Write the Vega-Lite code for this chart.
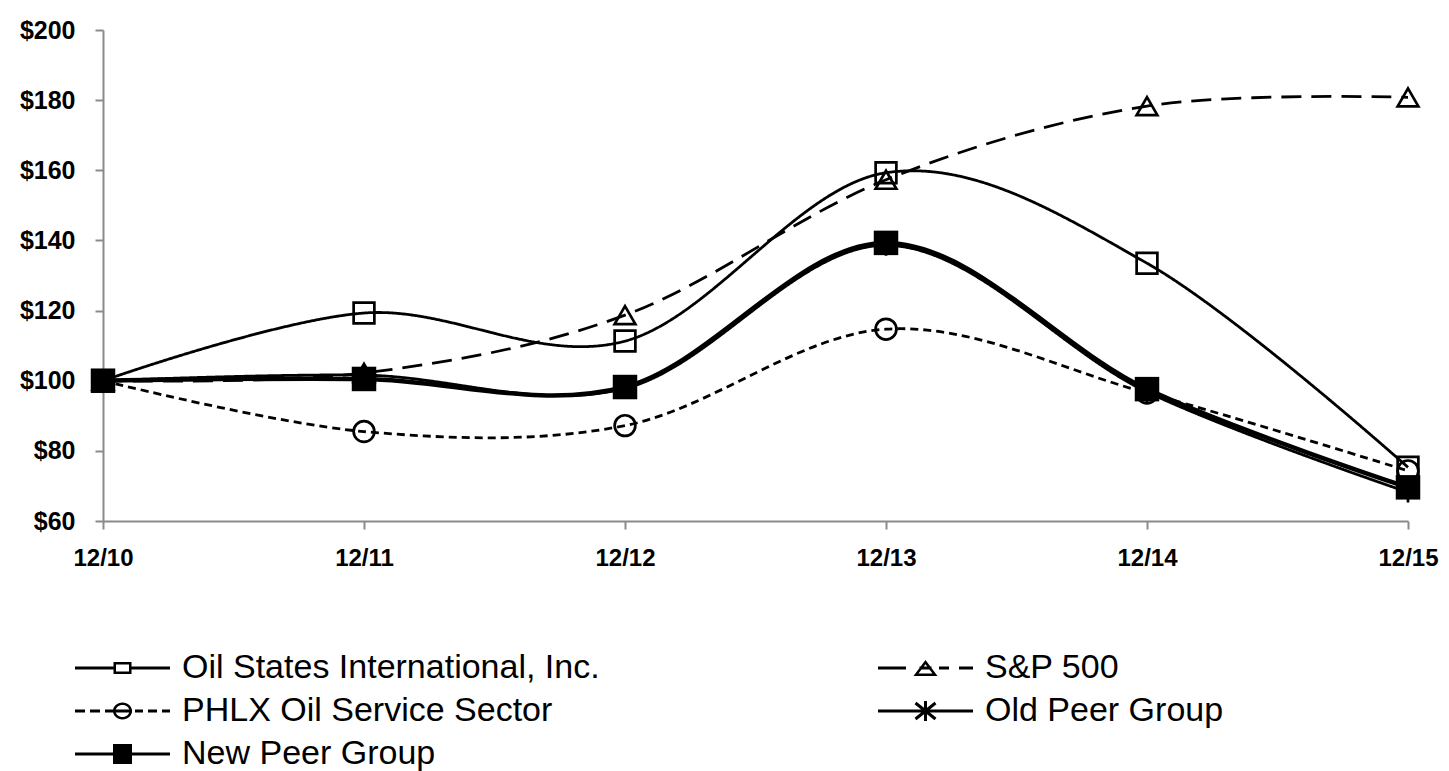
{
  "$schema": "https://vega.github.io/schema/vega-lite/v6.json",
  "width": 1305,
  "height": 491,
  "autosize": {"type": "none"},
  "padding": {"left": 103, "top": 30, "right": 41, "bottom": 250},
  "background": "white",
  "config": {
    "view": {"stroke": null},
    "axis": {
      "grid": false,
      "domainColor": "#8a8a8a",
      "domainWidth": 2,
      "tickColor": "#8a8a8a",
      "tickWidth": 2,
      "tickSize": 8,
      "labelFont": "Liberation Sans",
      "labelFontSize": 24,
      "labelFontWeight": "bold",
      "labelColor": "black",
      "title": null
    }
  },
  "data": {
    "values": [
      {"date": "12/10", "series": "Oil States International, Inc.", "value": 100},
      {"date": "12/11", "series": "Oil States International, Inc.", "value": 119.3},
      {"date": "12/12", "series": "Oil States International, Inc.", "value": 111.3},
      {"date": "12/13", "series": "Oil States International, Inc.", "value": 159.3},
      {"date": "12/14", "series": "Oil States International, Inc.", "value": 133.5},
      {"date": "12/15", "series": "Oil States International, Inc.", "value": 75.3},
      {"date": "12/10", "series": "S&P 500", "value": 100},
      {"date": "12/11", "series": "S&P 500", "value": 102.2},
      {"date": "12/12", "series": "S&P 500", "value": 118.7},
      {"date": "12/13", "series": "S&P 500", "value": 157.3},
      {"date": "12/14", "series": "S&P 500", "value": 178.3},
      {"date": "12/15", "series": "S&P 500", "value": 180.8},
      {"date": "12/10", "series": "PHLX Oil Service Sector", "value": 100},
      {"date": "12/11", "series": "PHLX Oil Service Sector", "value": 85.5},
      {"date": "12/12", "series": "PHLX Oil Service Sector", "value": 87.2},
      {"date": "12/13", "series": "PHLX Oil Service Sector", "value": 114.7},
      {"date": "12/14", "series": "PHLX Oil Service Sector", "value": 96.5},
      {"date": "12/15", "series": "PHLX Oil Service Sector", "value": 74.3},
      {"date": "12/10", "series": "Old Peer Group", "value": 100},
      {"date": "12/11", "series": "Old Peer Group", "value": 101.6},
      {"date": "12/12", "series": "Old Peer Group", "value": 97.8},
      {"date": "12/13", "series": "Old Peer Group", "value": 138.6},
      {"date": "12/14", "series": "Old Peer Group", "value": 96.8},
      {"date": "12/15", "series": "Old Peer Group", "value": 68.2},
      {"date": "12/10", "series": "New Peer Group", "value": 100},
      {"date": "12/11", "series": "New Peer Group", "value": 100.5},
      {"date": "12/12", "series": "New Peer Group", "value": 98.2},
      {"date": "12/13", "series": "New Peer Group", "value": 139.3},
      {"date": "12/14", "series": "New Peer Group", "value": 97.6},
      {"date": "12/15", "series": "New Peer Group", "value": 69.6}
    ]
  },
  "encoding": {
    "x": {
      "field": "date",
      "type": "ordinal",
      "scale": {"type": "point", "padding": 0, "domain": ["12/10", "12/11", "12/12", "12/13", "12/14", "12/15"]},
      "axis": {"labelAngle": 0, "labelPadding": 17, "labelFontSize": 24}
    },
    "y": {
      "field": "value",
      "type": "quantitative",
      "scale": {"domain": [60, 200], "nice": false, "zero": false},
      "axis": {"values": [60, 80, 100, 120, 140, 160, 180, 200], "format": "$.0f", "labelPadding": 20, "labelFontSize": 25}
    }
  },
  "layer": [
    {
      "transform": [{"filter": "datum.series !== 'New Peer Group'"}],
      "mark": {"type": "line", "interpolate": "cardinal", "color": "black", "strokeWidth": 2.8},
      "encoding": {
        "strokeDash": {
          "field": "series",
          "type": "nominal",
          "scale": {
            "domain": ["Oil States International, Inc.", "S&P 500", "PHLX Oil Service Sector", "Old Peer Group"],
            "range": [[1, 0], [20, 10], [8, 5], [1, 0]]
          },
          "legend": null
        }
      }
    },
    {
      "transform": [{"filter": "datum.series === 'New Peer Group'"}],
      "mark": {"type": "line", "interpolate": "cardinal", "color": "black", "strokeWidth": 4.5},
      "encoding": {}
    },
    {
      "transform": [{"filter": "datum.series !== 'New Peer Group'"}],
      "mark": {"type": "point", "filled": false, "color": "black", "strokeWidth": 2.7, "size": 430, "opacity": 1},
      "encoding": {
        "shape": {
          "field": "series",
          "type": "nominal",
          "scale": {
            "domain": ["Oil States International, Inc.", "S&P 500", "PHLX Oil Service Sector", "Old Peer Group"],
            "range": ["square", "triangle-up", "circle", "M0,-1V1M-0.87,-0.5L0.87,0.5M-0.87,0.5L0.87,-0.5"]
          },
          "legend": null
        }
      }
    },
    {
      "transform": [{"filter": "datum.series === 'New Peer Group'"}],
      "mark": {"type": "point", "filled": true, "shape": "square", "color": "black", "size": 600, "opacity": 1},
      "encoding": {}
    },
    {
      "mark": {"type": "point", "filled": true, "color": "black", "opacity": 0},
      "encoding": {
        "shape": {
          "field": "series",
          "type": "nominal",
          "scale": {
            "domain": ["Oil States International, Inc.", "PHLX Oil Service Sector", "New Peer Group", "S&P 500", "Old Peer Group"],
            "range": [
              "M-3.75,-0.075H-1.825V0.075H-3.75ZM-0.925,-0.075H1V0.075H-0.925ZM-1.825,-0.3H-0.925V0.3H-1.825ZM-1.7,-0.175V0.175H-1.05V-0.175Z",
              "M-3.75,-0.075H-3.25V0.075H-3.75ZM-3,-0.075H-2.5V0.075H-3ZM-2.25,-0.075H-0.9V0.075H-2.25ZM-0.75,-0.075H-0.35V0.075H-0.75ZM-0.1,-0.075H0.35V0.075H-0.1ZM0.6,-0.075H1V0.075H0.6ZM-1.85,0A0.475 0.425 0 1 1 -0.9,0A0.475 0.425 0 1 1 -1.85,0ZM-1.725,0A0.35 0.3 0 1 0 -1.025,0A0.35 0.3 0 1 0 -1.725,0Z",
              "M-3.75,-0.075H1V0.075H-3.75ZM-1.85,-0.5H-0.9V0.5H-1.85Z",
              "M-3.75,-0.075H-2.35V0.075H-3.75ZM-1.675,-0.075H-1.075V0.075H-1.675ZM-0.7,-0.075H-0.2V0.075H-0.7ZM0.3,-0.075H1V0.075H0.3ZM-1.375,-0.4L-0.775,0.4H-1.975ZM-1.375,-0.19L-1.725,0.275H-1.025Z",
              "M-3.75,-0.075H1V0.075H-3.75ZM-1.45,-0.5H-1.3V0.5H-1.45ZM-1.828,-0.459L-0.828,0.342L-0.922,0.459L-1.922,-0.342ZM-1.922,0.342L-0.922,-0.459L-0.828,-0.342L-1.828,0.459Z"
            ]
          },
          "legend": {
            "title": null,
            "orient": "none",
            "legendX": 27,
            "legendY": 618,
            "columns": 2,
            "columnPadding": 278,
            "rowPadding": 6,
            "padding": 0,
            "symbolSize": 1600,
            "symbolStrokeWidth": 0,
            "symbolFillColor": "black",
            "symbolOpacity": 1,
            "labelFont": "Liberation Sans",
            "labelFontSize": 34,
            "labelColor": "black",
            "labelOffset": 12,
            "labelLimit": 700
          }
        }
      }
    }
  ],
  "resolve": {"scale": {"shape": "independent"}}
}
